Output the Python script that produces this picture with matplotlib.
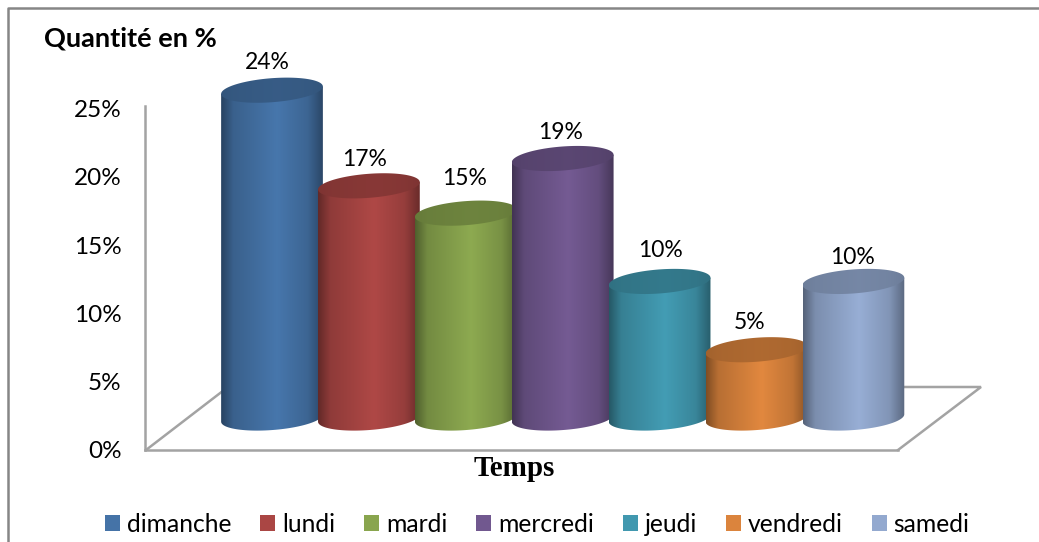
import matplotlib
matplotlib.use("Agg")
import matplotlib.pyplot as plt
from matplotlib.colors import to_rgb
from matplotlib.patches import PathPatch, Patch
from matplotlib.path import Path
import numpy as np

days = ["dimanche", "lundi", "mardi", "mercredi", "jeudi", "vendredi", "samedi"]
values = [24, 17, 15, 19, 10, 5, 10]
colors = ["#4573a7", "#aa4644", "#89a54e", "#71588f", "#4198af", "#db843d", "#93a9cf"]
yticks = [0, 5, 10, 15, 20, 25]

W, H = 1039, 542
FONT = "Lato"
# pixel nudges for the value labels (dx, dy above the top of each cylinder)
label_dx = [-5, -4, -1, -2, 1, -7, -1]
label_dy = [28, 26, 35, 26, 31, 27, 24]

# cylinder shape, in data units
FLOOR = 2.34   # how far the cylinders sit above the axis line (depth)
RX = 0.525
RY = 0.88
TILT = 0.27


def shade_row(color, stops, n=256):
    t = np.linspace(0, 1, n)
    s = np.interp(t, [0, 0.12, 0.55, 0.85, 1], stops)
    return np.clip(np.outer(s, to_rgb(color)), 0, 1)[None, :, :]


def clipped_image(ax, img, extent, outline, z):
    patch = PathPatch(Path(outline), transform=ax.transData, fc="none", ec="none")
    ax.add_patch(patch)
    im = ax.imshow(img, extent=extent, aspect="auto", zorder=z, interpolation="bilinear")
    im.set_clip_path(patch)
    im.set_clip_box(ax.figure.bbox)


def cylinder(ax, x, v, color, z):
    top = v + FLOOR
    # front arc of the bottom, left to right, then up and back over the top
    a = np.linspace(np.pi, 2 * np.pi, 60)
    px = np.r_[x + RX * np.cos(a), x + RX, x - RX]
    py = np.r_[FLOOR + RY * np.sin(a) + TILT * np.cos(a), top + TILT, top - TILT]
    clipped_image(ax, shade_row(color, [0.58, 0.84, 1.03, 0.88, 0.62]),
                  [x - RX, x + RX, FLOOR - RY - 1, top + 1], np.c_[px, py], z)
    t = np.linspace(0, 2 * np.pi, 120)
    ex = x + RX * np.cos(t)
    ey = top + RY * np.sin(t) + TILT * np.cos(t)
    clipped_image(ax, shade_row(color, [0.74, 0.77, 0.8, 0.78, 0.74]),
                  [x - RX, x + RX, top - RY - 1, top + RY + 1], np.c_[ex, ey], z + 0.5)


fig = plt.figure(figsize=(W / 100, H / 100), dpi=100)

# background layer in pixels: frame and floor
bg = fig.add_axes([0, 0, 1, 1])
bg.set_xlim(0, W)
bg.set_ylim(H, 0)
bg.axis("off")
bg.plot([7.5, 7.5, W], [H, 8, 8], color="#868686", lw=1.8)
bg.plot([146, 228, 981, 898], [450, 387, 387, 450], color="#a3a3a3", lw=1.8, solid_joinstyle="miter")

ax = fig.add_axes([145 / W, 1 - 450 / H, (898 - 145) / W, (450 - 106) / H])
ax.patch.set_alpha(0)
for s in ["top", "right"]:
    ax.spines[s].set_visible(False)
for s in ["left", "bottom"]:
    ax.spines[s].set_color("#a3a3a3")
    ax.spines[s].set_linewidth(1.8)

x = np.arange(len(days))
for i, (v, c) in enumerate(zip(values, colors)):
    cylinder(ax, x[i], v, c, 3 + i)
    ax.annotate(f"{v}%", (x[i], v + FLOOR), xytext=(label_dx[i] * 0.72, label_dy[i] * 0.72),
                textcoords="offset points", ha="center", va="center",
                fontsize=16.5, family=FONT, color="black", zorder=20, annotation_clip=False)

ax.set_xlim((145 - 272) / 96.9, (898 - 272) / 96.9)
ax.set_ylim(0, 344 / 13.66)
ax.set_xticks([])
ax.set_yticks(yticks)
ax.set_yticklabels([f"{t}%" for t in yticks], fontsize=17.5, family=FONT)
ax.tick_params(axis="y", length=0, pad=17)

fig.text(44 / W, 1 - 39 / H, "Quantité en %", fontsize=19.5, fontweight="bold", family=FONT,
         ha="left", va="center")
fig.text(514 / W, 1 - 469 / H, "Temps", fontsize=21, fontweight="bold", family="Liberation Serif",
         ha="center", va="center")

handles = [Patch(facecolor=c, label=d) for d, c in zip(days, colors)]
fig.legend(handles=handles, ncol=7, loc="center", bbox_to_anchor=(537 / W, 1 - 524 / H),
           frameon=False, prop={"family": FONT, "size": 17.7},
           handlelength=0.61, handleheight=0.61, handletextpad=0.28, columnspacing=1.18,
           borderpad=0, borderaxespad=0)

fig.savefig("out.png", dpi=100)
